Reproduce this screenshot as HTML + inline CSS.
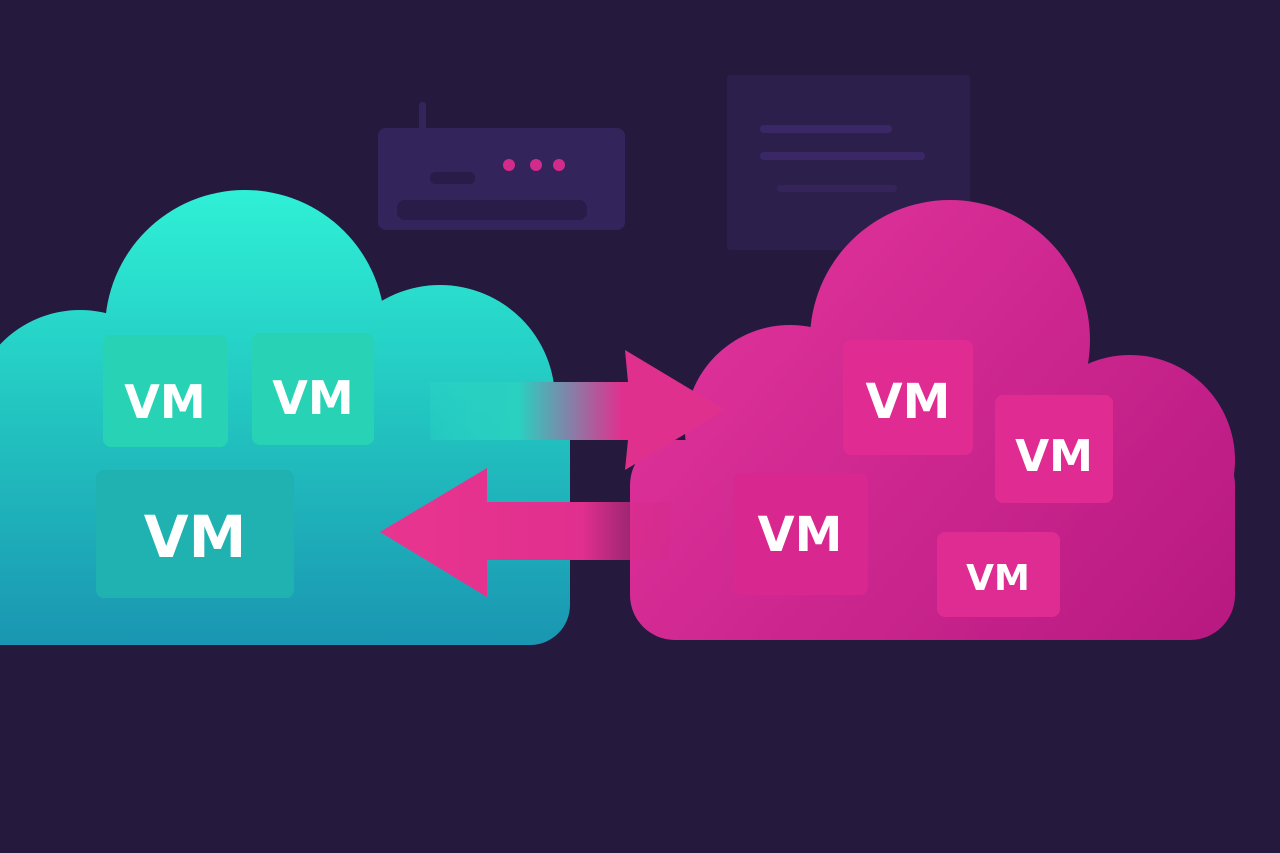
<!DOCTYPE html>
<html><head><meta charset="utf-8"><style>
html,body{margin:0;padding:0;background:#251a3d;}
svg{display:block}
text{font-family:"DejaVu Sans","Liberation Sans",sans-serif;font-weight:bold;fill:#fff}
</style></head><body>
<svg width="1280" height="853" viewBox="0 0 1280 853" xmlns="http://www.w3.org/2000/svg">
<defs>
<linearGradient id="tl" x1="0" y1="190" x2="0" y2="645" gradientUnits="userSpaceOnUse">
<stop offset="0" stop-color="#2ff0d6"/><stop offset="0.5" stop-color="#22c4c0"/><stop offset="1" stop-color="#1a96b2"/></linearGradient>
<linearGradient id="pk" x1="700" y1="200" x2="1200" y2="640" gradientUnits="userSpaceOnUse">
<stop offset="0" stop-color="#e2349c"/><stop offset="1" stop-color="#b81a82"/></linearGradient>
<linearGradient id="a1" x1="430" y1="0" x2="725" y2="0" gradientUnits="userSpaceOnUse">
<stop offset="0" stop-color="#2ad8c4" stop-opacity="0.3"/><stop offset="0.3" stop-color="#2ad0c0"/><stop offset="0.65" stop-color="#e0308e"/><stop offset="1" stop-color="#e0308e"/></linearGradient>
<linearGradient id="a2" x1="670" y1="0" x2="380" y2="0" gradientUnits="userSpaceOnUse">
<stop offset="0" stop-color="#d42a8a" stop-opacity="0.4"/><stop offset="0.3" stop-color="#e02f8e"/><stop offset="1" stop-color="#e8358f"/></linearGradient>
</defs>
<rect x="727" y="75" width="243" height="175" rx="4" fill="#2d1f4c"/>
<rect x="760" y="125" width="132" height="8" rx="4" fill="#3a2866"/>
<rect x="760" y="152" width="165" height="8" rx="4" fill="#3a2866"/>
<rect x="777" y="185" width="120" height="7" rx="3" fill="#34245a"/>
<rect x="378" y="128" width="247" height="102" rx="8" fill="#34245c"/>
<rect x="419" y="102" width="7" height="30" rx="3" fill="#34245c"/>
<rect x="397" y="200" width="190" height="20" rx="8" fill="#2a1c48"/>
<rect x="430" y="172" width="45" height="12" rx="5" fill="#2a1c48"/>
<circle cx="509" cy="165" r="6" fill="#d22b8c"/>
<circle cx="536" cy="165" r="6" fill="#d22b8c"/>
<circle cx="559" cy="165" r="6" fill="#d22b8c"/>
<g fill="url(#tl)">
<circle cx="245" cy="330" r="140"/>
<circle cx="440" cy="400" r="115"/>
<circle cx="80" cy="420" r="110"/>
<rect x="0" y="400" width="570" height="245" rx="40"/>
<rect x="0" y="420" width="60" height="225"/>
</g>
<g fill="url(#pk)">
<circle cx="950" cy="340" r="140"/>
<circle cx="790" cy="430" r="105"/>
<circle cx="1130" cy="460" r="105"/>
<rect x="630" y="440" width="605" height="200" rx="45"/>
</g>
<polygon points="430,382 628,382 625,350 725,410 625,470 628,440 430,440" fill="url(#a1)"/>
<polygon points="670,502 487,502 487,468 380,532 487,597 487,560 670,560" fill="url(#a2)"/>
<rect x="103" y="335" width="125" height="112" rx="8" fill="#27d3b4"/>
<text x="165" y="418" font-size="46" text-anchor="middle">VM</text>
<rect x="252" y="333" width="122" height="112" rx="8" fill="#27d3b4"/>
<text x="313" y="414" font-size="46" text-anchor="middle">VM</text>
<rect x="96" y="470" width="198" height="128" rx="8" fill="#1fb2b0"/>
<text x="195" y="557" font-size="58" text-anchor="middle">VM</text>
<rect x="843" y="340" width="130" height="115" rx="8" fill="#e02c92"/>
<text x="908" y="418" font-size="48" text-anchor="middle">VM</text>
<rect x="995" y="395" width="118" height="108" rx="8" fill="#e02c92"/>
<text x="1054" y="471" font-size="44" text-anchor="middle">VM</text>
<rect x="733" y="473" width="135" height="122" rx="8" fill="#d82890"/>
<text x="800" y="551" font-size="48" text-anchor="middle">VM</text>
<rect x="937" y="532" width="123" height="85" rx="8" fill="#de2c92"/>
<text x="998" y="590" font-size="36" text-anchor="middle">VM</text>
</svg>
</body></html>
